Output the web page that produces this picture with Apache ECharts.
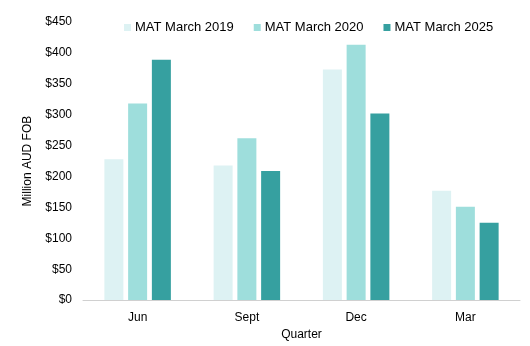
<!DOCTYPE html>
<html>
<head>
<meta charset="utf-8">
<script src="https://cdn.jsdelivr.net/npm/echarts@6/dist/echarts.min.js"></script>
<style>
  html, body { margin: 0; padding: 0; background: #fff; }
  #chart { width: 530px; height: 346px; }
</style>
</head>
<body>
<div id="chart"></div>
<script>
// Quarterly export values (million AUD FOB)
const quarters = ['Jun', 'Sept', 'Dec', 'Mar'];
const seriesNames = ['MAT March 2019', 'MAT March 2020', 'MAT March 2025'];
const mat2019 = [228, 218, 373, 177];
const mat2020 = [318, 262, 413, 151];
const mat2025 = [389, 209, 302, 125];
const colors = ['#DDF2F3', '#9EDEDC', '#36A0A0'];

const font = 'Liberation Sans, Arial, sans-serif';
const chart = echarts.init(document.getElementById('chart'));

const valueSets = [mat2019, mat2020, mat2025];

chart.setOption({
  animation: false,
  color: colors,
  textStyle: { fontFamily: font },
  legend: {
    top: 21,
    left: 124,
    padding: 0,
    itemWidth: 7,
    itemHeight: 7,
    itemGap: 20,
    icon: 'rect',
    textStyle: { fontSize: 13, color: '#000', fontFamily: font, padding: [0, 0, 0, -1] },
    data: seriesNames
  },
  grid: { left: 83, right: 10, top: 22, bottom: 44 },
  xAxis: {
    type: 'category',
    data: quarters,
    name: 'Quarter',
    nameLocation: 'middle',
    nameGap: 22,
    nameTextStyle: { fontSize: 12, color: '#000' },
    axisLine: { lineStyle: { color: '#D0D0D0', width: 1 } },
    axisTick: { show: false },
    axisLabel: { fontSize: 12, color: '#000', margin: 12 }
  },
  yAxis: {
    type: 'value',
    min: 0,
    max: 450,
    interval: 50,
    name: 'Million AUD FOB',
    nameLocation: 'middle',
    nameGap: 49,
    nameTextStyle: { fontSize: 12, color: '#000' },
    splitLine: { show: false },
    axisLine: { show: false },
    axisTick: { show: false },
    axisLabel: {
      fontSize: 12,
      color: '#000',
      margin: 11,
      formatter: v => '$' + v
    }
  },
  series: seriesNames.map((name, i) => ({
    name,
    type: 'bar',
    data: valueSets[i],
    barWidth: 19,
    barGap: '25%',
    barCategoryGap: '38%',
    itemStyle: { color: colors[i] }
  }))
});
</script>
</body>
</html>
